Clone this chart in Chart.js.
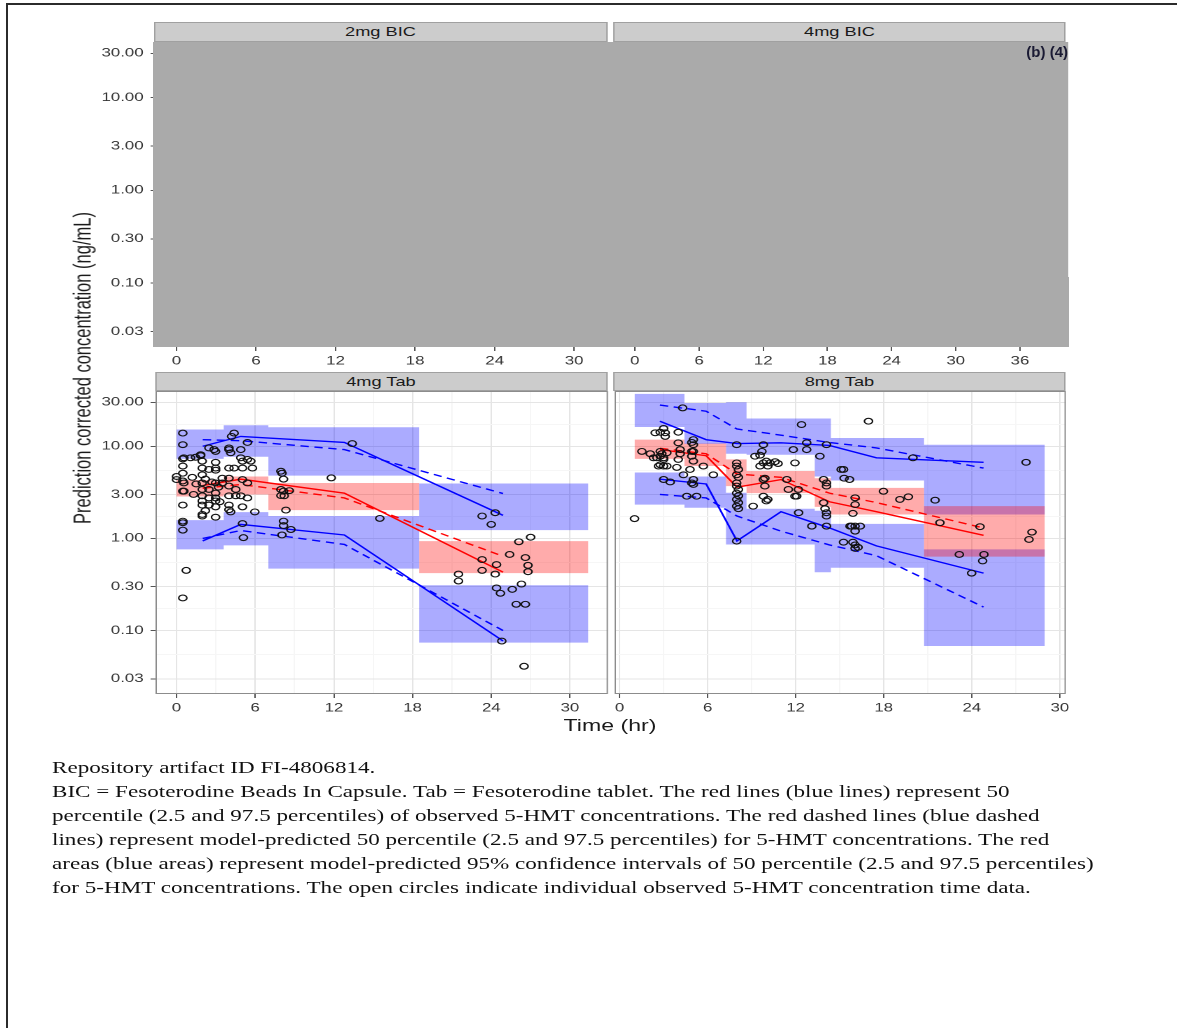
<!DOCTYPE html>
<html lang="en">
<head>
<meta charset="UTF-8">
<title>5-HMT VPC</title>
<script src="https://cdn.jsdelivr.net/npm/chart.js"></script>
<style>
  html, body { margin: 0; padding: 0; background: #fff; }
  body { width: 1177px; height: 1028px; position: relative; overflow: hidden; font-family: "Liberation Sans", Arial, sans-serif; }
  .frame { position: absolute; left: 6px; top: 3px; width: 1200px; height: 1100px; border-top: 2px solid #2b2b2b; border-left: 2px solid #2b2b2b; }
  /* the whole figure in the reference is stretched sideways, so draw it narrow and widen it */
  .stretch { position: absolute; left: 0; top: 0; width: 841px; height: 1028px; transform: scaleX(1.4); transform-origin: 0 0; }
  .box { position: absolute; }
  .strip { position: absolute; background: #cccccc; border: 1px solid #a0a0a0; box-sizing: border-box; font-size: 13px; color: #1a1a1a; text-align: center; }
  .redact { position: absolute; background: #aaaaaa; }
  .ytitle { position: absolute; width: 400px; height: 20px; line-height: 20px; font-size: 16.5px; color: #1a1a1a; text-align: center; transform: rotate(-90deg); }
  .xtitle { position: absolute; width: 200px; height: 20px; line-height: 20px; font-size: 16.5px; color: #1a1a1a; text-align: center; }
  .caption { position: absolute; font-family: "Liberation Serif", "Times New Roman", serif; font-size: 16.5px; line-height: 24px; color: #111; white-space: nowrap; }
  .bcode { position: absolute; left: 960px; top: 43px; width: 108px; text-align: right; font-size: 15px; font-weight: bold; color: #1a1a33; }
</style>
</head>
<body>
<div class="frame"></div>
<div class="stretch" id="fig"></div>
<div class="bcode">(b) (4)</div>

<script>
// ---- data ----
const yTickValues = [0.03, 0.1, 0.3, 1, 3, 10, 30];
const yTickLabels = ['0.03', '0.10', '0.30', '1.00', '3.00', '10.00', '30.00'];
const xTicksBic2 = [0, 6, 12, 18, 24, 30];
const xTicksBic4 = [0, 6, 12, 18, 24, 30, 36];
const xTicksTab = [0, 6, 12, 18, 24, 30];

// 4mg Tab: observed points
const tab4Time = [0.0, 0.0, 0.48, 0.48, 0.48, 0.48, 0.48, 0.48, 0.48, 0.48, 0.48, 0.48, 0.48, 0.74, 0.48, 0.56, 0.56, 0.56,
  1.07, 1.45, 1.84, 1.84, 1.96, 1.96, 1.96, 1.96, 1.96, 1.96, 1.96, 1.96, 1.96, 1.96, 1.2, 1.5, 1.3, 2.2, 2.2,
  2.47, 2.47, 2.47, 2.47, 2.47, 2.86, 2.98, 2.98, 2.98, 2.98, 2.98, 2.98, 2.98, 2.98, 2.98, 2.98, 2.7, 3.2, 3.3,
  3.49, 3.49, 4.0, 4.39, 4.2, 4.0, 4.13, 4.0, 4.0, 4.0, 4.0, 4.0, 4.0, 4.13, 4.52, 4.52, 4.39, 4.9, 4.9,
  5.03, 5.03, 5.03, 4.9, 5.03, 5.1, 5.03, 5.41, 5.41, 5.41, 5.66, 5.79, 5.41, 5.97,
  7.96, 8.04, 8.16, 7.96, 8.16, 7.96, 8.21, 8.34, 8.16, 8.16, 8.04, 8.72, 8.6, 11.8, 13.4, 15.5,
  21.5, 21.5, 23.3, 24.0, 24.3, 23.3, 23.3, 24.4, 24.3, 24.4, 24.7, 25.6, 25.4, 26.1, 27.0, 26.6, 26.8, 26.8,
  26.3, 25.9, 26.6, 26.5, 24.8];
const tab4Conc = [4.7, 4.35, 13.9, 10.4, 7.3, 6.1, 5.1, 4.2, 3.26, 2.3, 1.54, 1.48, 1.23, 0.45, 0.226, 4.0, 3.26, 7.5,
  7.5, 7.6, 8.1, 7.9, 6.9, 5.8, 4.9, 4.0, 3.4, 2.9, 2.55, 2.3, 1.82, 1.75, 4.6, 3.9, 3.0, 4.4, 2.0,
  9.6, 5.6, 3.4, 2.75, 2.3, 9.2, 8.8, 6.7, 5.8, 5.5, 4.0, 3.1, 2.75, 2.55, 2.2, 1.7, 4.1, 3.6, 2.5,
  4.5, 4.0, 9.6, 13.9, 12.8, 9.2, 8.5, 5.8, 4.5, 3.7, 2.9, 2.3, 2.05, 1.94, 3.4, 2.9, 5.8, 9.2, 7.5,
  6.9, 5.8, 4.35, 2.9, 2.2, 1.02, 1.45, 11.0, 7.2, 2.75, 6.9, 5.8, 4.0, 1.94,
  5.36, 5.1, 4.4, 3.4, 3.26, 2.92, 2.9, 2.03, 1.54, 1.38, 1.09, 1.25, 3.3, 4.54, 10.7, 1.65,
  0.41, 0.345, 1.75, 1.42, 1.9, 0.59, 0.45, 0.52, 0.41, 0.29, 0.254, 0.28, 0.67, 0.92, 1.03, 0.62, 0.51, 0.435,
  0.32, 0.193, 0.193, 0.041, 0.077];

// 4mg Tab: bins and percentile lines
const tab4BinEdges = [0, 3.6, 7.0, 18.5, 31.4];
const tab4UpperHi = [15.2, 16.9, 16.1, 3.94];
const tab4UpperLo = [7.3, 7.7, 4.8, 1.23];
const tab4MedHi = [4.3, 4.7, 4.0, 0.935];
const tab4MedLo = [2.85, 3.0, 2.03, 0.42];
const tab4LowerHi = [1.58, 1.93, 1.75, 0.31];
const tab4LowerLo = [0.76, 0.84, 0.47, 0.074];
const tab4NodeTime = [2.0, 4.9, 12.8, 24.9];
const tab4ObsHi = [10.0, 12.8, 11.0, 1.78];
const tab4PredHi = [11.8, 11.5, 9.2, 3.07];
const tab4ObsMed = [3.75, 4.4, 3.1, 0.43];
const tab4PredMed = [3.5, 3.85, 2.75, 0.64];
const tab4ObsLo = [0.94, 1.42, 1.09, 0.077];
const tab4PredLo = [1.0, 1.22, 0.86, 0.10];

// 8mg Tab: observed points
const tab8Time = [1.02, 1.52, 2.43, 2.77, 3.11, 3.0, 3.11, 2.77, 2.88, 3.0, 2.77, 2.54, 2.31, 2.09, 3.0, 3.22,
  2.65, 3.0, 3.22, 2.77, 3.0, 3.45, 4.0, 4.0, 4.13, 4.13, 4.0, 3.9, 4.3, 4.35,
  4.92, 5.03, 5.03, 4.92, 5.03, 4.92, 5.03, 4.8, 5.03, 5.03, 4.92, 4.58, 5.71, 6.39, 5.25,
  7.98, 7.98, 7.98, 8.1, 7.98, 8.1, 7.98, 7.98, 8.1, 7.98, 8.1, 7.98, 8.1, 7.98, 8.1, 7.98,
  9.1, 9.23, 9.57, 9.7, 9.57, 9.8, 10.0, 10.1, 10.25, 10.6, 10.8, 9.8, 9.8, 9.9, 9.9, 9.8, 10.0, 10.1,
  11.84, 11.95, 11.4, 11.5, 11.95, 12.07, 12.4, 12.75, 12.75, 12.18, 12.2, 13.1,
  13.65, 14.1, 13.9, 14.1, 14.1, 13.9, 14.1, 14.1, 14.1, 14.0, 15.1, 15.3, 15.26, 15.67,
  16.96, 17.98, 19.1, 19.68, 19.99, 21.5, 21.83, 24.56, 23.15, 24.83, 24.74, 23.99, 27.7, 28.1, 27.9,
  16.05, 16.05, 15.9, 15.8, 16.05, 16.4, 15.7, 16.05, 15.26, 15.9, 16.05, 16.25, 16.05];
const tab8Conc = [1.64, 8.8, 14.0, 14.2, 14.0, 15.6, 12.8, 8.8, 8.3, 7.5, 7.8, 7.5, 7.5, 8.3, 7.2, 8.5,
  6.1, 6.1, 6.1, 6.3, 4.36, 4.1, 14.2, 10.9, 9.2, 8.3, 7.2, 5.9, 26.1, 4.9,
  11.0, 11.8, 10.4, 8.8, 8.8, 7.8, 6.9, 5.6, 4.36, 3.85, 4.0, 2.87, 6.1, 4.9, 2.87,
  10.4, 6.6, 6.1, 5.6, 4.9, 4.6, 4.0, 3.7, 3.4, 3.1, 2.9, 2.65, 2.44, 2.24, 2.1, 0.935,
  2.24, 7.8, 8.0, 8.8, 6.1, 6.6, 6.9, 6.1, 6.6, 6.8, 6.5, 10.4, 4.36, 4.5, 3.7, 2.87, 2.55, 2.65,
  9.2, 6.6, 4.36, 3.4, 2.87, 2.87, 17.2, 10.9, 9.2, 3.4, 1.9, 1.36,
  7.8, 10.4, 4.36, 4.0, 3.7, 2.44, 1.9, 1.75, 1.36, 2.1, 5.6, 4.5, 5.6, 4.36,
  18.7, 3.25, 2.65, 2.83, 7.5, 2.6, 1.48, 1.34, 0.67, 0.67, 0.57, 0.42, 6.7, 1.17, 0.975,
  2.76, 2.33, 1.87, 1.36, 1.36, 1.36, 1.36, 1.2, 0.91, 0.91, 0.85, 0.8, 0.78];

// 8mg Tab: bins and percentile lines
const tab8BinEdges = [1.02, 4.42, 7.25, 8.65, 13.3, 14.4, 20.75, 28.98];
const tab8UpperHi = [37, 29.5, 30, 20, 20, 12.3, 10.4];
const tab8UpperLo = [16.2, 10.6, 8.3, 8.1, 4.7, 4.25, 1.82];
const tab8MedHi = [11.8, 10.7, 7.2, 5.4, 4.5, 3.54, 2.24];
const tab8MedLo = [7.3, 6.1, 3.7, 3.1, 2.2, 1.82, 0.634];
const tab8LowerHi = [5.2, 4.7, 3.13, 2.1, 2.0, 1.44, 0.76];
const tab8LowerLo = [2.33, 2.15, 0.86, 0.86, 0.43, 0.48, 0.068];
const tab8NodeTime = [2.75, 5.9, 8.0, 11.0, 14.3, 17.5, 24.8];
const tab8ObsHi = [18.7, 11.8, 10.7, 10.9, 10.2, 7.5, 6.7];
const tab8PredHi = [28, 24, 15.4, 13.2, 11.0, 9.6, 5.8];
const tab8ObsMed = [9.2, 7.9, 3.6, 4.35, 2.5, 1.95, 1.08];
const tab8PredMed = [9.5, 8.3, 5.0, 4.6, 3.1, 2.45, 1.3];
const tab8ObsLo = [4.4, 3.9, 0.94, 1.95, 1.3, 0.83, 0.42];
const tab8PredLo = [3.0, 2.75, 1.75, 1.2, 0.85, 0.65, 0.18];

// ---- layout ----
const S = 1.4;             // sideways stretch of the reference
const Y_MIN = 0.0205, Y_MAX = 39.8;
const PAD_TOP = 13, PAD_R = 14, PAD_L = 12, Y_AXIS_W = 50, X_AXIS_H = 30;
const BLUE_FILL = 'rgba(0, 0, 255, 0.33)';
const RED_FILL = 'rgba(255, 0, 0, 0.33)';

Chart.defaults.font.family = '"Liberation Sans", Arial, sans-serif';

const fig = document.getElementById('fig');

function addDiv(cls, left, top, w, h, text) {
    const d = document.createElement('div');
    d.className = cls;
    d.style.left = left + 'px';
    d.style.top = top + 'px';
    if (w != null) d.style.width = w + 'px';
    if (h != null) { d.style.height = h + 'px'; d.style.lineHeight = (h - 2) + 'px'; }
    if (text) d.textContent = text;
    fig.appendChild(d);
    return d;
}

// frame around each data panel
const panelFrame = {
    id: 'panelFrame',
    afterDraw(chart, args, opts) {
        if (!opts.show) return;
        const a = chart.chartArea;
        const c = chart.ctx;
        c.save();
        c.strokeStyle = '#8c8c8c';
        c.lineWidth = 1;
        c.strokeRect(a.left + 0.5, a.top + 0.5, a.right - a.left - 1, a.bottom - a.top - 1);
        c.restore();
    }
};

function boxBand(edges, hi, lo, color, order) {
    const last = hi.length - 1;
    const top = edges.map((e, i) => ({ x: e, y: hi[Math.min(i, last)] }));
    const bot = edges.map((e, i) => ({ x: e, y: lo[Math.min(i, last)] }));
    const base = { type: 'line', stepped: true, borderWidth: 0, borderColor: 'rgba(0,0,0,0)', pointRadius: 0, order: order };
    return [
        Object.assign({}, base, { data: top, fill: '+1', backgroundColor: color }),
        Object.assign({}, base, { data: bot, fill: false })
    ];
}

function pctLine(times, vals, color, dashed) {
    return {
        type: 'line',
        data: times.map((t, i) => ({ x: t, y: vals[i] })),
        borderColor: color,
        borderWidth: 1.4,
        borderDash: dashed ? [6, 4] : [],
        pointRadius: 0,
        fill: false,
        tension: 0,
        order: 2
    };
}

function panelDatasets(d) {
    return [].concat(
        boxBand(d.edges, d.medHi, d.medLo, RED_FILL, 3),
        boxBand(d.edges, d.upHi, d.upLo, BLUE_FILL, 4),
        boxBand(d.edges, d.lowHi, d.lowLo, BLUE_FILL, 4),
        [
            pctLine(d.node, d.obsHi, '#0000ff', false),
            pctLine(d.node, d.predHi, '#0000ff', true),
            pctLine(d.node, d.obsMed, '#ff0000', false),
            pctLine(d.node, d.predMed, '#ff0000', true),
            pctLine(d.node, d.obsLo, '#0000ff', false),
            pctLine(d.node, d.predLo, '#0000ff', true),
            {
                type: 'scatter',
                data: d.time.map((t, i) => ({ x: t, y: d.conc[i] })),
                pointRadius: 2.9,
                pointBorderWidth: 1.1,
                borderColor: '#111111',
                backgroundColor: 'rgba(0,0,0,0)',
                order: 1
            }
        ]
    );
}

function midpoints(ticks, geometric) {
    const out = [];
    for (let i = 0; i < ticks.length - 1; i++) {
        out.push(geometric ? Math.sqrt(ticks[i] * ticks[i + 1]) : (ticks[i] + ticks[i + 1]) / 2);
    }
    return out;
}

function makePanel(p) {
    const plotW = (p.x1 - p.x0) / S;
    const plotH = p.y1 - p.y0;
    const padL = p.yAxis ? Y_AXIS_W : PAD_L;
    const box = addDiv('box', p.x0 / S - padL, p.y0 - PAD_TOP, padL + plotW + PAD_R, PAD_TOP + plotH + X_AXIS_H);
    box.style.lineHeight = 'normal';
    const canvas = document.createElement('canvas');
    box.appendChild(canvas);

    const hasData = !!p.data;
    const xMinor = hasData ? midpoints(p.xMajor, false) : [];
    const yMinor = hasData ? midpoints(yTickValues, true) : [];
    const xAll = p.xMajor.concat(xMinor).sort((a, b) => a - b);
    const yAll = yTickValues.concat(yMinor).filter(v => v > Y_MIN && v < Y_MAX).sort((a, b) => a - b);
    const isMajorX = v => p.xMajor.indexOf(v) >= 0;
    const isMajorY = v => yTickValues.indexOf(v) >= 0;

    new Chart(canvas, {
        type: 'scatter',
        data: { datasets: hasData ? panelDatasets(p.data) : [] },
        options: {
            responsive: true,
            maintainAspectRatio: false,
            animation: false,
            devicePixelRatio: 2,
            events: [],
            layout: { padding: { left: p.yAxis ? 0 : PAD_L, right: PAD_R, top: PAD_TOP, bottom: 0 } },
            plugins: {
                legend: { display: false },
                tooltip: { enabled: false },
                panelFrame: { show: hasData }
            },
            scales: {
                x: {
                    type: 'linear',
                    min: p.xMin,
                    max: p.xMax,
                    afterFit: s => { s.height = X_AXIS_H; },
                    afterBuildTicks: s => { s.ticks = xAll.map(v => ({ value: v })); },
                    border: { display: false },
                    grid: {
                        drawOnChartArea: hasData,
                        color: ctx => (ctx.tick && isMajorX(ctx.tick.value)) ? '#e5e5e5' : '#f6f6f6',
                        lineWidth: 1,
                        tickLength: 4,
                        tickWidth: 1,
                        tickColor: ctx => (ctx.tick && isMajorX(ctx.tick.value)) ? '#555555' : 'rgba(0,0,0,0)'
                    },
                    ticks: {
                        autoSkip: false,
                        maxRotation: 0,
                        minRotation: 0,
                        padding: 3,
                        color: '#333333',
                        font: { size: 12 },
                        callback: v => isMajorX(v) ? String(v) : ''
                    }
                },
                y: {
                    type: 'logarithmic',
                    min: Y_MIN,
                    max: Y_MAX,
                    display: p.yAxis || hasData,
                    afterFit: s => { s.width = p.yAxis ? Y_AXIS_W : 0; },
                    afterBuildTicks: s => { s.ticks = yAll.map(v => ({ value: v })); },
                    border: { display: false },
                    grid: {
                        drawOnChartArea: hasData,
                        drawTicks: p.yAxis,
                        color: ctx => (ctx.tick && isMajorY(ctx.tick.value)) ? '#e5e5e5' : '#f6f6f6',
                        lineWidth: 1,
                        tickLength: 3.5,
                        tickWidth: 1,
                        tickColor: ctx => (ctx.tick && isMajorY(ctx.tick.value)) ? '#555555' : 'rgba(0,0,0,0)'
                    },
                    ticks: {
                        display: p.yAxis,
                        autoSkip: false,
                        padding: 5,
                        color: '#333333',
                        font: { size: 12 },
                        callback: v => {
                            const k = yTickValues.indexOf(v);
                            return k >= 0 ? yTickLabels[k] : '';
                        }
                    }
                }
            }
        },
        plugins: [panelFrame]
    });
}

const tab4 = {
    time: tab4Time, conc: tab4Conc, edges: tab4BinEdges,
    upHi: tab4UpperHi, upLo: tab4UpperLo, medHi: tab4MedHi, medLo: tab4MedLo, lowHi: tab4LowerHi, lowLo: tab4LowerLo,
    node: tab4NodeTime, obsHi: tab4ObsHi, predHi: tab4PredHi, obsMed: tab4ObsMed, predMed: tab4PredMed, obsLo: tab4ObsLo, predLo: tab4PredLo
};
const tab8 = {
    time: tab8Time, conc: tab8Conc, edges: tab8BinEdges,
    upHi: tab8UpperHi, upLo: tab8UpperLo, medHi: tab8MedHi, medLo: tab8MedLo, lowHi: tab8LowerHi, lowLo: tab8LowerLo,
    node: tab8NodeTime, obsHi: tab8ObsHi, predHi: tab8PredHi, obsMed: tab8ObsMed, predMed: tab8PredMed, obsLo: tab8ObsLo, predLo: tab8PredLo
};

// panel positions in reference pixels (x before the sideways stretch is removed)
const panels = [
    { x0: 155, x1: 607, y0: 42, y1: 347, xMin: -1.586, xMax: 32.55, xMajor: xTicksBic2, yAxis: true, data: null },
    { x0: 614, x1: 1066, y0: 42, y1: 347, xMin: -1.895, xMax: 40.29, xMajor: xTicksBic4, yAxis: false, data: null },
    { x0: 155, x1: 607, y0: 391, y1: 694, xMin: -1.603, xMax: 32.9, xMajor: xTicksTab, yAxis: true, data: tab4 },
    { x0: 614, x1: 1066, y0: 391, y1: 694, xMin: -0.34, xMax: 30.41, xMajor: xTicksTab, yAxis: false, data: tab8 }
];
panels.forEach(makePanel);

// facet strips
addDiv('strip', 154 / S, 22, (607 - 154) / S, 20, '2mg BIC');
addDiv('strip', 613 / S, 22, (1066 - 613) / S, 20, '4mg BIC');
addDiv('strip', 155 / S, 372, (607 - 155) / S, 19, '4mg Tab');
addDiv('strip', 613 / S, 372, (1066 - 613) / S, 19, '8mg Tab');

// grey redaction block over the top row
addDiv('redact', 153 / S, 42, (1068 - 153) / S, 305);

// axis titles
addDiv('ytitle', 82 / S - 200, 368 - 10, null, null, 'Prediction corrected concentration (ng/mL)');
addDiv('xtitle', 610 / S - 100, 715, null, null, 'Time (hr)');

// caption
const cap = addDiv('caption', 52 / S, 756, null, null, '');
cap.innerHTML = 'Repository artifact ID FI-4806814.<br>' +
    'BIC = Fesoterodine Beads In Capsule. Tab = Fesoterodine tablet. The red lines (blue lines) represent 50<br>' +
    'percentile (2.5 and 97.5 percentiles) of observed 5-HMT concentrations. The red dashed lines (blue dashed<br>' +
    'lines) represent model-predicted 50 percentile (2.5 and 97.5 percentiles) for 5-HMT concentrations. The red<br>' +
    'areas (blue areas) represent model-predicted 95% confidence intervals of 50 percentile (2.5 and 97.5 percentiles)<br>' +
    'for 5-HMT concentrations. The open circles indicate individual observed 5-HMT concentration time data.';
</script>
</body>
</html>
